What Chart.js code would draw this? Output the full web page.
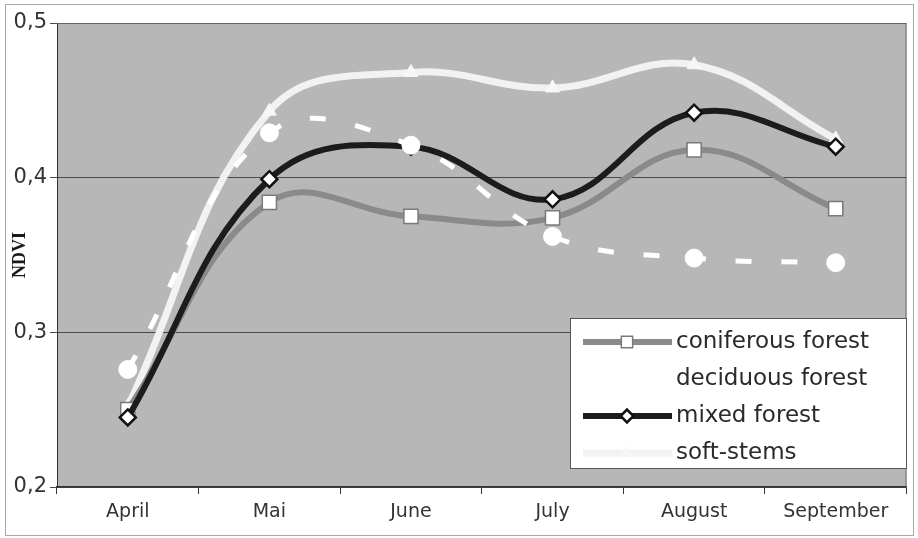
<!DOCTYPE html>
<html>
<head>
<meta charset="utf-8">
<script src="https://cdn.jsdelivr.net/npm/chart.js@4.4.0/dist/chart.umd.min.js"></script>
<style>
  html, body { margin: 0; padding: 0; background: #ffffff; }
  #wrap { width: 918px; height: 538px; }
</style>
</head>
<body>
<div id="wrap"><canvas id="ndviChart" width="918" height="538"></canvas></div>
<script>
// NDVI per month for the four vegetation classes
const months = ['April', 'Mai', 'June', 'July', 'August', 'September'];
const coniferous = [0.250, 0.384, 0.375, 0.374, 0.418, 0.380];
const deciduous = [0.276, 0.429, 0.421, 0.362, 0.348, 0.345];
const mixed = [0.245, 0.399, 0.420, 0.386, 0.442, 0.420];
const softStems = [0.252, 0.443, 0.468, 0.458, 0.473, 0.425];
const yTicks = [0.2, 0.3, 0.4, 0.5];

const labelFont = "'DejaVu Sans', Verdana, sans-serif";

// gray plot area + frame round the whole picture
const backdrop = {
    id: 'backdrop',
    beforeDraw(chart) {
        const { ctx, chartArea: a } = chart;
        ctx.save();
        ctx.fillStyle = '#b7b7b7';
        ctx.fillRect(a.left, a.top, a.right - a.left, a.bottom - a.top);
        ctx.strokeStyle = '#a8a8a8';
        ctx.lineWidth = 1;
        ctx.strokeRect(5.5, 4.5, 908, 531);
        ctx.restore();
    },
    afterDatasetsDraw(chart) {
        const { ctx, chartArea: a } = chart;
        ctx.save();
        ctx.strokeStyle = '#666';
        ctx.lineWidth = 1;
        ctx.beginPath();
        ctx.moveTo(a.left, a.top + 0.5);
        ctx.lineTo(a.right - 0.5, a.top + 0.5);
        ctx.lineTo(a.right - 0.5, a.bottom);
        ctx.stroke();
        ctx.restore();
    }
};

// legend box drawn inside the plot, bottom right
const boxLegend = {
    id: 'boxLegend',
    afterDraw(chart) {
        const ctx = chart.ctx;
        const x = 570, y = 318, w = 336, h = 150;
        ctx.save();
        ctx.fillStyle = '#ffffff';
        ctx.fillRect(x, y, w, h);
        ctx.strokeStyle = '#555';
        ctx.lineWidth = 1;
        ctx.strokeRect(x + 0.5, y + 0.5, w, h);
        ctx.font = '23px ' + labelFont;
        ctx.textBaseline = 'middle';
        chart.data.datasets.forEach((ds, i) => {
            const cy = y + 24 + i * 37;
            ctx.setLineDash([]);
            ctx.strokeStyle = ds.borderColor;
            ctx.lineWidth = ds.borderWidth;
            ctx.beginPath();
            ctx.moveTo(583, cy);
            ctx.lineTo(672, cy);
            ctx.stroke();
            ctx.fillStyle = ds.pointBackgroundColor;
            ctx.strokeStyle = ds.pointBorderColor;
            ctx.lineWidth = ds.pointBorderWidth;
            Chart.helpers.drawPoint(ctx, {
                pointStyle: ds.pointStyle,
                radius: ds.pointRadius * 0.8,
                borderWidth: ds.pointBorderWidth,
                rotation: 0
            }, 627, cy);
            ctx.fillStyle = '#2a2a2a';
            ctx.fillText(ds.label, 676, cy);
        });
        ctx.restore();
    }
};

new Chart(document.getElementById('ndviChart'), {
    type: 'line',
    data: {
        labels: months,
        datasets: [
            {
                label: 'coniferous forest',
                data: coniferous,
                borderColor: '#8a8a8a',
                borderWidth: 6,
                pointStyle: 'rect',
                pointRadius: 10,
                pointBackgroundColor: '#ffffff',
                pointBorderColor: '#7a7a7a',
                pointBorderWidth: 1.5,
                tension: 0.4,
                order: 2
            },
            {
                label: 'deciduous forest',
                data: deciduous,
                borderColor: '#ffffff',
                borderWidth: 5,
                borderDash: [16, 30],
                pointStyle: 'circle',
                pointRadius: 9,
                pointBackgroundColor: '#ffffff',
                pointBorderColor: '#ffffff',
                pointBorderWidth: 1,
                tension: 0.4,
                order: 0
            },
            {
                label: 'mixed forest',
                data: mixed,
                borderColor: '#1c1c1c',
                borderWidth: 6,
                pointStyle: 'rectRot',
                pointRadius: 8,
                pointBackgroundColor: '#ffffff',
                pointBorderColor: '#111111',
                pointBorderWidth: 2.5,
                tension: 0.4,
                order: 1
            },
            {
                label: 'soft-stems',
                data: softStems,
                borderColor: '#f2f2f2',
                borderWidth: 7,
                pointStyle: 'triangle',
                pointRadius: 8,
                pointBackgroundColor: '#f7f7f7',
                pointBorderColor: '#f7f7f7',
                pointBorderWidth: 1,
                tension: 0.4,
                order: 3
            }
        ]
    },
    options: {
        responsive: false,
        animation: false,
        layout: { padding: { top: 23, right: 10, left: 0, bottom: 0 } },
        plugins: {
            legend: { display: false },
            tooltip: { enabled: false }
        },
        scales: {
            x: {
                offset: true,
                grid: {
                    offset: true,
                    drawOnChartArea: false,
                    drawTicks: true,
                    tickLength: 7,
                    color: '#333'
                },
                border: { color: '#333', width: 1.5 },
                ticks: {
                    color: '#333',
                    padding: 7,
                    font: { family: labelFont, size: 19 }
                },
                afterFit(scale) { scale.height = 51; }
            },
            y: {
                min: 0.2,
                max: 0.5,
                afterBuildTicks(scale) {
                    scale.ticks = yTicks.map(v => ({ value: v }));
                },
                grid: {
                    color: '#4a4a4a',
                    lineWidth: 1,
                    tickLength: 7
                },
                border: { color: '#333', width: 1 },
                ticks: {
                    color: '#333',
                    padding: 3,
                    font: { family: labelFont, size: 21 }
                    ,
                    callback: v => v.toFixed(1).replace('.', ',')
                },
                title: {
                    display: true,
                    text: 'NDVI',
                    color: '#1a1a1a',
                    padding: { top: 10, bottom: 0 },
                    font: { family: "'Liberation Serif', 'Times New Roman', serif", size: 18, weight: 'bold' }
                },
                afterFit(scale) { scale.width = 57; }
            }
        }
    },
    plugins: [backdrop, boxLegend]
});
</script>
</body>
</html>
